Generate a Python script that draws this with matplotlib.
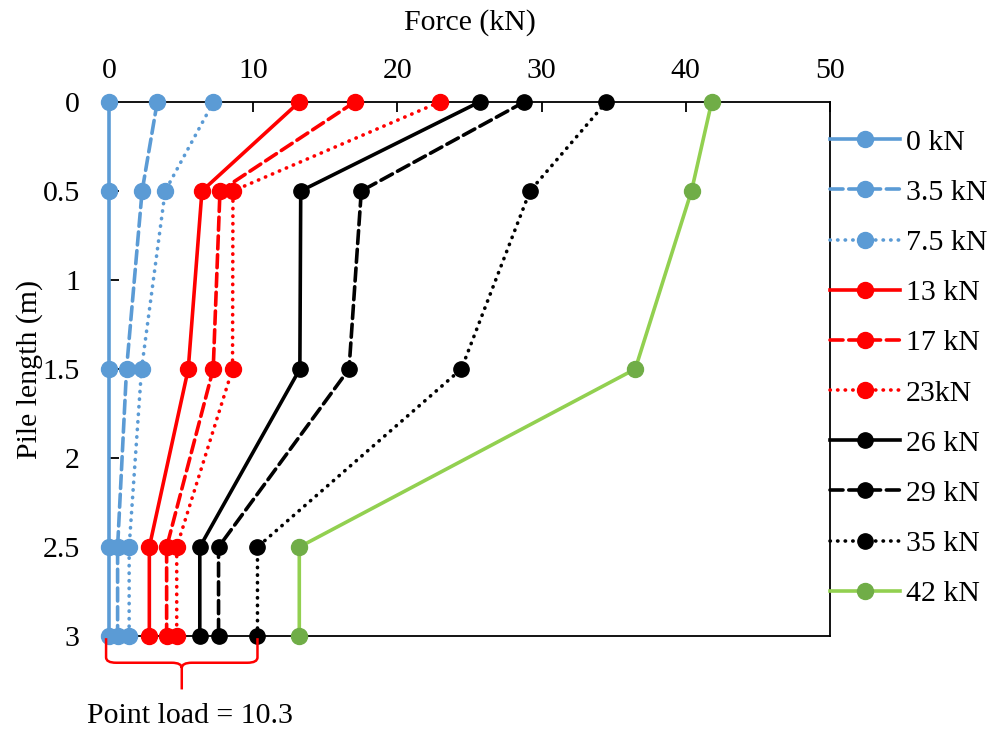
import matplotlib.pyplot as plt
from matplotlib.path import Path
from matplotlib.patches import PathPatch

plt.rcParams['font.family'] = ['Liberation Serif', 'DejaVu Serif']

# pile depth (m)
depth = [0, 0.5, 1.5, 2.5, 3]

# axial force along the pile for each applied load (kN)
f0 = [0, 0, 0, 0, 0]
f3_5 = [3.35, 2.3, 1.22, 0.6, 0.6]
f7_5 = [7.25, 3.9, 2.26, 1.4, 1.4]
f13 = [13.2, 6.45, 5.5, 2.8, 2.8]
f17 = [17.05, 7.7, 7.23, 4.0, 4.0]
f23 = [22.95, 8.6, 8.57, 4.7, 4.7]
f26 = [25.7, 13.3, 13.24, 6.3, 6.3]
f29 = [28.8, 17.5, 16.65, 7.6, 7.6]
f35 = [34.5, 29.2, 24.44, 10.3, 10.3]
f42 = [41.8, 40.4, 36.5, 13.2, 13.2]

labels = ['0 kN', '3.5 kN', '7.5 kN', '13 kN', '17 kN', '23kN',
          '26 kN', '29 kN', '35 kN', '42 kN']
point_load = 10.3

BLUE = '#5B9BD5'
RED = '#FF0000'
BLACK = '#000000'
FS = 21.5

dash = (0, (3.6, 1.6))
dot = (0, (0.1, 2.0))

# (data, line color, marker color, style, marker size)
series = [
    (f0, BLUE, BLUE, '-', 11.5),
    (f3_5, BLUE, BLUE, dash, 11.5),
    (f7_5, BLUE, BLUE, dot, 11.5),
    (f13, RED, RED, '-', 11.5),
    (f17, RED, RED, dash, 11.5),
    (f23, RED, RED, dot, 11.5),
    (f26, BLACK, BLACK, '-', 11),
    (f29, BLACK, BLACK, dash, 11),
    (f35, BLACK, BLACK, dot, 11),
    (f42, '#92D050', '#70AD47', '-', 11.5),
]

fig = plt.figure(figsize=(9.95, 7.32), dpi=100)
ax = fig.add_axes([0.1095, 0.1311, 0.7246, 0.7296])

for (vals, lc, mc, ls, ms), lab in zip(series, labels):
    ax.plot(vals, depth, color=lc, linestyle=ls, linewidth=2.6,
            marker='o', markersize=ms, markerfacecolor=mc, markeredgecolor=mc,
            dash_capstyle='round', label=lab, clip_on=False, zorder=3)

ax.set_xlim(0, 50)
ax.set_ylim(3, 0)
ax.set_xticks([0, 10, 20, 30, 40, 50])
ax.set_yticks([0, 0.5, 1, 1.5, 2, 2.5, 3])
ax.set_yticklabels(['0', '0.5', '1', '1.5', '2', '2.5', '3'])
ax.xaxis.tick_top()
ax.xaxis.set_label_position('top')
ax.tick_params(axis='x', direction='in', length=7, width=1.3, labelsize=FS, pad=13)
ax.tick_params(axis='y', direction='in', length=7, width=1.3, labelsize=FS, pad=21)
for s in ax.spines.values():
    s.set_linewidth(1.3)
ax.set_xlabel('Force (kN)', fontsize=FS, labelpad=20)
ax.set_ylabel('Pile length (m)', fontsize=FS, labelpad=0)

leg = ax.legend(loc='upper left', bbox_to_anchor=(1.0, 0.95), frameon=False,
                fontsize=FS, handlelength=2.35, handletextpad=0.2,
                borderpad=0, borderaxespad=0, labelspacing=0.78)

# curly brace marking the point load at the pile toe
x0, x1 = -0.2, point_load
xm = (x0 + x1) / 2
y0, yh, yt = 3.012, 3.15, 3.3
r = 0.7
ry = 0.03
verts = [(x0, y0), (x0, yh - ry), (x0, yh), (x0 + r, yh),
         (xm - r, yh), (xm, yh), (xm, yh + ry), (xm, yt),
         (xm, yh + ry), (xm, yh), (xm + r, yh),
         (x1 - r, yh), (x1, yh), (x1, yh - ry), (x1, y0)]
codes = [Path.MOVETO, Path.LINETO, Path.CURVE3, Path.CURVE3,
         Path.LINETO, Path.CURVE3, Path.CURVE3, Path.LINETO,
         Path.MOVETO, Path.CURVE3, Path.CURVE3,
         Path.LINETO, Path.CURVE3, Path.CURVE3, Path.LINETO]
brace = PathPatch(Path(verts, codes), facecolor='none', edgecolor=RED,
                  linewidth=1.8, clip_on=False, zorder=4)
ax.add_patch(brace)
ax.text(xm + 0.6, 3.45, 'Point load = 10.3', fontsize=FS, ha='center', va='center')

fig.savefig('out.png', dpi=100)
